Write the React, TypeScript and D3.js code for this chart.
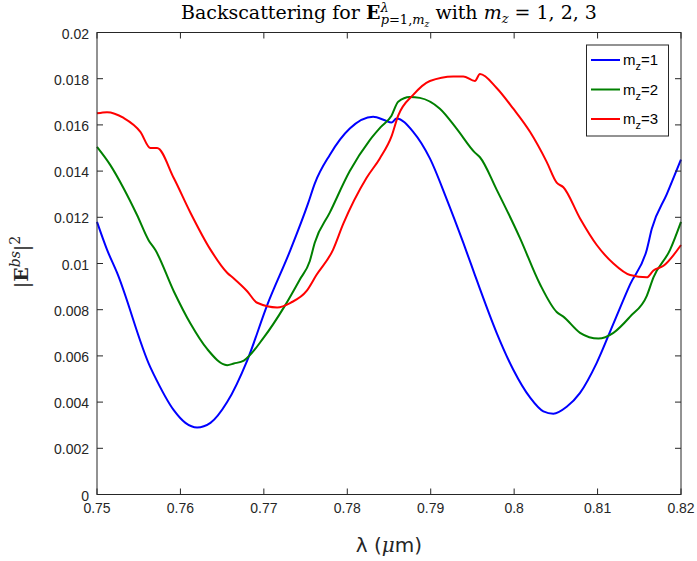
import { useEffect, useRef } from "react"
import * as d3 from "d3"

const xTicks = [0.75, 0.76, 0.77, 0.78, 0.79, 0.8, 0.81, 0.82]
const yTicks = [0, 0.002, 0.004, 0.006, 0.008, 0.01, 0.012, 0.014, 0.016, 0.018, 0.02]
const seriesNames = ["1", "2", "3"]
const seriesColors = ["#0000ff", "#008000", "#ff0000"]

const lambda1 = [0.75, 0.7512, 0.7524, 0.7564, 0.7568, 0.7592, 0.7606, 0.762, 0.7636, 0.7656, 0.768, 0.7704, 0.7732, 0.7753, 0.7761, 0.7779, 0.7803, 0.7831, 0.7845, 0.7853, 0.7859, 0.7879, 0.7899, 0.7919, 0.7939, 0.7953, 0.7959, 0.7979, 0.7999, 0.8019, 0.8035, 0.8047, 0.8063, 0.8079, 0.8099, 0.8119, 0.8139, 0.8159, 0.8165, 0.8183, 0.82]
const bs1 = [0.0118, 0.0106, 0.0096, 0.0055, 0.0052, 0.00365, 0.0031, 0.0029, 0.0031, 0.004, 0.0058, 0.0082, 0.0106, 0.0126, 0.01346, 0.0147, 0.01584, 0.01635, 0.0162, 0.0161, 0.01628, 0.0157, 0.01455, 0.0128, 0.0109, 0.0095, 0.0089, 0.007, 0.0054, 0.0042, 0.0036, 0.0035, 0.0038, 0.0044, 0.0057, 0.0074, 0.0091, 0.0106, 0.0115, 0.013, 0.0145]

const lambda2 = [0.75, 0.7516, 0.7532, 0.7548, 0.7562, 0.757, 0.7592, 0.7612, 0.7632, 0.7656, 0.7664, 0.7676, 0.77, 0.7724, 0.7743, 0.7755, 0.7761, 0.7779, 0.7803, 0.7827, 0.784, 0.7853, 0.7861, 0.7875, 0.7887, 0.7911, 0.7931, 0.7953, 0.7959, 0.7979, 0.8007, 0.8031, 0.8051, 0.8059, 0.8079, 0.8101, 0.8119, 0.8139, 0.8159, 0.8167, 0.8187, 0.82]
const bs2 = [0.01505, 0.01426, 0.01325, 0.0121, 0.011, 0.01058, 0.0088, 0.0074, 0.0063, 0.0056, 0.00567, 0.0058, 0.0068, 0.0081, 0.0093, 0.0101, 0.0109, 0.0122, 0.014, 0.01534, 0.0159, 0.0164, 0.017, 0.01721, 0.01717, 0.0167, 0.01584, 0.0148, 0.0146, 0.0132, 0.0111, 0.0091, 0.0079, 0.0077, 0.007, 0.00675, 0.007, 0.0077, 0.0086, 0.0094, 0.0106, 0.0118]

const lambda3 = [0.75, 0.7512, 0.7532, 0.7552, 0.7564, 0.7572, 0.7592, 0.7612, 0.7636, 0.7656, 0.7664, 0.768, 0.7692, 0.7716, 0.7732, 0.7751, 0.7763, 0.7783, 0.7795, 0.7823, 0.7839, 0.7853, 0.7861, 0.7879, 0.7899, 0.7927, 0.7939, 0.7953, 0.7959, 0.7979, 0.7999, 0.8019, 0.8039, 0.8051, 0.8059, 0.8079, 0.8099, 0.8119, 0.8139, 0.8159, 0.8167, 0.8179, 0.82]
const bs3 = [0.0165, 0.01655, 0.0163, 0.0157, 0.015, 0.015, 0.0137, 0.0122, 0.0106, 0.0096, 0.00935, 0.0088, 0.0083, 0.0081, 0.0083, 0.0088, 0.0095, 0.0106, 0.0117, 0.0137, 0.01455, 0.0155, 0.0164, 0.0173, 0.0179, 0.0181, 0.0181, 0.0179, 0.0182, 0.0176, 0.0167, 0.0157, 0.0144, 0.0135, 0.0133, 0.01195, 0.0108, 0.01, 0.0095, 0.0094, 0.0097, 0.0099, 0.0108]

const lambdas = [lambda1, lambda2, lambda3]
const values = [bs1, bs2, bs3]

export default function App() {
    const svgRef = useRef<SVGSVGElement>(null)

    useEffect(() => {
        if (!svgRef.current) return
        const svg = d3.select(svgRef.current)
        svg.selectAll("*").remove()

        const left = 97, right = 681, top = 32.5, bottom = 494.5
        const axisColor = "#262626"
        const sans = "'Liberation Sans', Arial, sans-serif"
        const serif = "'DejaVu Serif', 'Liberation Serif', serif"

        const x = d3.scaleLinear().domain([0.75, 0.82]).range([left, right])
        const y = d3.scaleLinear().domain([0, 0.02]).range([bottom, top])

        svg.append("rect").attr("width", 697).attr("height", 561).attr("fill", "#fff")

        // curves
        const line = d3.line<[number, number]>()
            .x(d => x(d[0]))
            .y(d => y(d[1]))
            .curve(d3.curveMonotoneX)

        values.forEach((vals, i) => {
            const pts = vals.map((v, j) => [lambdas[i][j], v] as [number, number])
            svg.append("path")
                .attr("d", line(pts))
                .attr("fill", "none")
                .attr("stroke", seriesColors[i])
                .attr("stroke-width", 2)
                .attr("stroke-linejoin", "round")
        })

        // box + ticks
        const g = svg.append("g")
        g.append("rect")
            .attr("x", left).attr("y", top)
            .attr("width", right - left).attr("height", bottom - top)
            .attr("fill", "none").attr("stroke", axisColor).attr("stroke-width", 1)

        const tl = 6
        xTicks.forEach(t => {
            g.append("line").attr("x1", x(t)).attr("x2", x(t)).attr("y1", bottom).attr("y2", bottom - tl)
                .attr("stroke", axisColor)
            g.append("line").attr("x1", x(t)).attr("x2", x(t)).attr("y1", top).attr("y2", top + tl)
                .attr("stroke", axisColor)
            g.append("text")
                .attr("x", x(t)).attr("y", bottom + 18)
                .attr("text-anchor", "middle")
                .style("font-family", sans).style("font-size", "14px")
                .attr("fill", axisColor)
                .text(d3.format("~g")(t))
        })
        yTicks.forEach(t => {
            g.append("line").attr("x1", left).attr("x2", left + tl).attr("y1", y(t)).attr("y2", y(t))
                .attr("stroke", axisColor)
            g.append("line").attr("x1", right).attr("x2", right - tl).attr("y1", y(t)).attr("y2", y(t))
                .attr("stroke", axisColor)
            g.append("text")
                .attr("x", left - 8).attr("y", y(t) + 6)
                .attr("text-anchor", "end")
                .style("font-family", sans).style("font-size", "14px")
                .attr("fill", axisColor)
                .text(t === 0 ? "0" : d3.format("~g")(t))
        })

        // x label
        const xl = svg.append("text")
            .attr("x", (left + right) / 2).attr("y", 552)
            .attr("text-anchor", "middle")
            .style("font-family", "'DejaVu Sans', sans-serif")
            .style("font-size", "20px").attr("fill", axisColor)
        xl.append("tspan").text("λ (")
        xl.append("tspan").style("font-family", serif).style("font-style", "italic").text("μ")
        xl.append("tspan").text("m)")

        // y label
        const yl = svg.append("text")
            .attr("transform", `translate(28,262) rotate(-90)`)
            .attr("text-anchor", "middle")
            .style("font-family", serif).style("font-size", "19px").attr("fill", axisColor)
        yl.append("tspan").text("|")
        yl.append("tspan").style("font-weight", "bold").text("E")
        yl.append("tspan").attr("dy", -8).style("font-size", "14px").style("font-style", "italic").text("bs")
        yl.append("tspan").attr("dy", 8).text("|")
        yl.append("tspan").attr("dy", -8).style("font-size", "14px").text("2")

        // title
        const tt = svg.append("text")
            .attr("x", (left + right) / 2).attr("y", 19)
            .attr("text-anchor", "middle")
            .style("font-family", serif).style("font-size", "19px").attr("fill", "#000")
        tt.append("tspan").text("Backscattering for ")
        tt.append("tspan").style("font-weight", "bold").text("E")
        tt.append("tspan").attr("dy", -7).style("font-size", "13px").style("font-style", "italic").text("λ")
        tt.append("tspan").attr("dx", -8).attr("dy", 12).style("font-size", "13px").style("font-style", "italic").text("p")
        tt.append("tspan").style("font-size", "13px").text("=1,")
        tt.append("tspan").style("font-size", "13px").style("font-style", "italic").text("m")
        tt.append("tspan").attr("dy", 3).style("font-size", "9px").style("font-style", "italic").text("z")
        tt.append("tspan").attr("dy", -8).text("  with ")
        tt.append("tspan").style("font-style", "italic").text("m")
        tt.append("tspan").attr("dy", 4).style("font-size", "13px").style("font-style", "italic").text("z")
        tt.append("tspan").attr("dy", -4).text(" = 1, 2, 3")

        // legend
        const lg = svg.append("g")
        lg.append("rect")
            .attr("x", 586.5).attr("y", 45).attr("width", 82).attr("height", 91)
            .attr("fill", "#fff").attr("stroke", axisColor).attr("stroke-width", 1)
        seriesNames.forEach((name, i) => {
            const ly = 60 + i * 29.5
            lg.append("line").attr("x1", 591).attr("x2", 620).attr("y1", ly).attr("y2", ly)
                .attr("stroke", seriesColors[i]).attr("stroke-width", 2)
            const t = lg.append("text").attr("x", 623).attr("y", ly + 5)
                .style("font-family", sans).style("font-size", "15px").attr("fill", "#000")
            t.append("tspan").text("m")
            t.append("tspan").attr("dy", 5).style("font-size", "11px").text("z")
            t.append("tspan").attr("dy", -5).text("=" + name)
        })
    }, [])

    return (
        <svg ref={svgRef} width={697} height={561}
            style={{ position: "absolute", left: 0, top: 0, display: "block" }} />
    )
}
